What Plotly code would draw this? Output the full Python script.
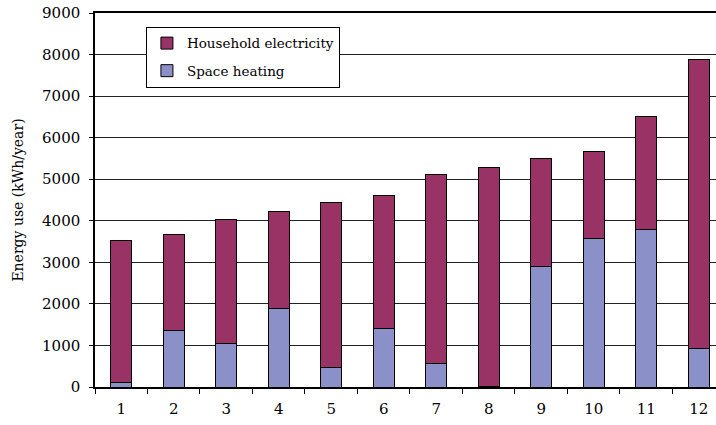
import plotly.graph_objects as go

# Values (kWh/year)
categories = [str(i) for i in range(1, 13)]
space_heating = [120, 1360, 1050, 1900, 470, 1400, 570, 20, 2900, 3580, 3800, 925]
total_use = [3530, 3680, 4040, 4230, 4430, 4610, 5110, 5290, 5490, 5660, 6520, 7890]
household_electricity = [t - h for t, h in zip(total_use, space_heating)]

serif = "DejaVu Serif"

fig = go.Figure()

fig.add_trace(go.Bar(
    x=categories,
    y=space_heating,
    name="Space heating",
    legendgroup="heat",
    legendrank=2,
    marker=dict(color="#8C90C8", line=dict(color="black", width=1)),
    width=0.4,
))
fig.add_trace(go.Bar(
    x=categories,
    y=household_electricity,
    name="Household electricity",
    legendgroup="elec",
    legendrank=1,
    marker=dict(color="#993366", line=dict(color="black", width=1)),
    width=0.4,
))

fig.update_layout(
    barmode="stack",
    width=716,
    height=425,
    margin=dict(l=95, r=0, t=13, b=38, autoexpand=False),
    plot_bgcolor="white",
    paper_bgcolor="white",
    font=dict(family=serif, size=15, color="black"),
    legend=dict(
        x=0.082, y=0.963, xanchor="left", yanchor="top",
        bgcolor="white", bordercolor="black", borderwidth=1,
        traceorder="grouped", tracegroupgap=7,
        font=dict(family=serif, size=13.5),
        itemwidth=30,
    ),
    showlegend=True,
)

fig.update_xaxes(
    type="category",
    range=[-0.5, 11.33],
    automargin=False,
    showline=True, linecolor="black", linewidth=1.5, mirror=True,
    ticks="outside", tickson="boundaries", ticklen=5, tickcolor="black",
    ticklabelstandoff=7,
    showgrid=False,
    tickfont=dict(family=serif, size=15),
)
fig.update_yaxes(
    range=[0, 9000],
    dtick=1000,
    automargin=False,
    showline=True, linecolor="black", linewidth=1.5,
    ticks="outside", ticklen=4, tickcolor="black",
    ticklabelstandoff=6,
    showgrid=True, gridcolor="#222222", gridwidth=1,
    tickfont=dict(family=serif, size=15),
    title=dict(text="Energy use (kWh/year)", font=dict(family=serif, size=14), standoff=15),
)

# drop the default 8px page margin so the figure fills the window
fig.write_html(
    "out.html",
    config={"displayModeBar": False},
    post_script="document.body.style.margin='0';",
)
